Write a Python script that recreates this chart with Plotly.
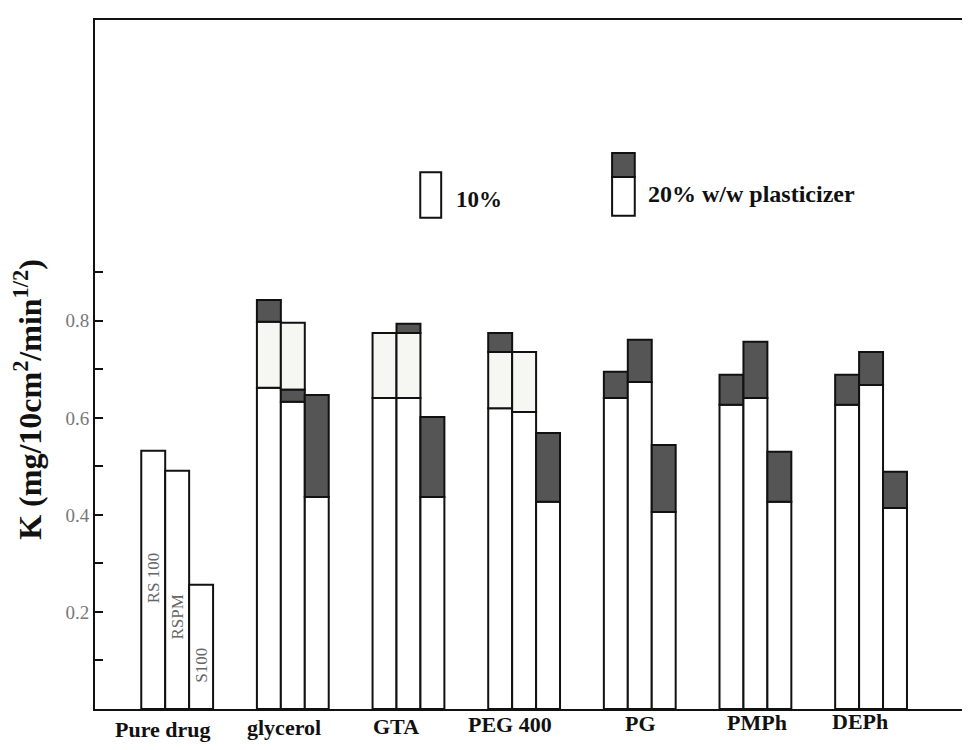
import numpy as np
import plotly.graph_objects as go

categories = ["Pure drug", "glycerol", "GTA", "PEG 400", "PG", "PMPh", "DEPh"]
polymers = ["RS 100", "RSPM", "S100"]
inner_labels = ["RS 100", "RSPM", "S100"]
inner_label_centers = [0.27, 0.19, 0.09]

# white (lower) segment tops, per polymer bar
white_rs100 = [0.532, 0.662, 0.641, 0.620, 0.641, 0.627, 0.627]
white_rspm = [0.491, 0.633, 0.641, 0.612, 0.674, 0.641, 0.668]
white_s100 = [0.256, 0.437, 0.437, 0.427, 0.406, 0.427, 0.414]

# light (pale) segment tops (None = no pale segment)
pale_rs100 = [None, 0.798, 0.775, 0.736, None, None, None]
pale_rspm = [None, 0.796, 0.775, 0.736, None, None, None]
pale_s100 = [None, None, None, None, None, None, None]

# dark segment tops (None = no dark segment)
dark_rs100 = [None, 0.843, None, 0.775, 0.695, 0.689, 0.689]
dark_rspm = [None, 0.658, 0.794, None, 0.761, 0.757, 0.736]
dark_s100 = [None, 0.647, 0.602, 0.569, 0.544, 0.530, 0.489]

y_tickvals = [0.2, 0.4, 0.6, 0.8]
y_ticktext = ["0.2", "0.4", "0.6", "0.8"]
y_minor_tickvals = [0.1, 0.3, 0.5, 0.7, 0.9]

# category label nudges (pixels) as in the skewed scan
label_dx = [-14, -9, -12, -14, 1, 2, -11]
label_dy = [-6, -4, -3, -1, 0, 1, 2]

WHITE = "#ffffff"
PALE = "#f6f6f2"
DARK = "#555555"
SERIF = "Liberation Serif, Times New Roman, serif"

series = [
    (white_rs100, pale_rs100, dark_rs100),
    (white_rspm, pale_rspm, dark_rspm),
    (white_s100, pale_s100, dark_s100),
]

def arr(v):
    return np.array([np.nan if x is None else x for x in v], dtype=float)

fig = go.Figure()
bw = 0.207
for i, (w, p, d) in enumerate(series):
    w, p, d = arr(w), arr(p), arr(d)
    off = -0.31 + bw * i
    dark_base = np.where(~np.isnan(p) & (p < d), p, w)
    dark_h = np.nan_to_num(d - dark_base, nan=0.0)
    pale_base = np.where(~np.isnan(d) & (d < p), d, w)
    pale_h = np.nan_to_num(p - pale_base, nan=0.0)
    fig.add_trace(go.Bar(
        x=categories, y=w, base=0, width=bw, offset=off,
        marker=dict(color=WHITE, line=dict(color="#111", width=2)),
        showlegend=False, name=polymers[i]))
    fig.add_trace(go.Bar(
        x=categories, y=pale_h, base=pale_base, width=bw, offset=off,
        marker=dict(color=PALE, line=dict(color="#111", width=np.where(pale_h > 0, 2, 0).tolist())),
        showlegend=False, name=polymers[i]))
    fig.add_trace(go.Bar(
        x=categories, y=dark_h, base=dark_base, width=bw, offset=off,
        marker=dict(color=DARK, line=dict(color="#111", width=np.where(dark_h > 0, 2, 0).tolist())),
        showlegend=False, name=polymers[i]))
    # inner label for the pure-drug bar only
    fig.add_trace(go.Bar(
        x=[categories[0]], y=[2 * inner_label_centers[i]], base=0, width=bw, offset=off,
        marker=dict(color="rgba(0,0,0,0)", line=dict(width=0)),
        text=[inner_labels[i]], textposition="inside", insidetextanchor="middle",
        textangle=-90, textfont=dict(family=SERIF, size=17, color="#666"),
        cliponaxis=False, constraintext="none",
        showlegend=False, hoverinfo="skip", name=polymers[i]))

# legend drawn as decorations
shapes = [
    dict(type="rect", xref="paper", yref="paper", x0=0.373, x1=0.397, y0=0.713, y1=0.779,
         line=dict(color="#111", width=2), fillcolor="white"),
    dict(type="rect", xref="paper", yref="paper", x0=0.593, x1=0.619, y0=0.716, y1=0.772,
         line=dict(color="#111", width=2), fillcolor="white"),
    dict(type="rect", xref="paper", yref="paper", x0=0.593, x1=0.619, y0=0.772, y1=0.807,
         line=dict(color="#111", width=2), fillcolor=DARK),
]
annotations = [
    dict(text="<b>10%</b>", xref="paper", yref="paper", x=0.412, y=0.740,
         xanchor="left", yanchor="middle", showarrow=False,
         font=dict(family=SERIF, size=23, color="#111")),
    dict(text="<b>20% w/w plasticizer</b>", xref="paper", yref="paper", x=0.632, y=0.747,
         xanchor="left", yanchor="middle", showarrow=False,
         font=dict(family=SERIF, size=24, color="#111")),
    dict(text="<b>K (mg/10cm<sup>2</sup>/min<sup>1/2</sup>)</b>", xref="paper", yref="paper",
         x=-0.077, y=0.450, xanchor="center", yanchor="middle", textangle=-90,
         showarrow=False, font=dict(family=SERIF, size=32, color="#111")),
]
for c, dx, dy in zip(categories, label_dx, label_dy):
    annotations.append(dict(
        text="<b>" + c + "</b>", x=c, xref="x", y=0, yref="paper",
        xanchor="center", yanchor="top", xshift=dx, yshift=dy,
        showarrow=False, font=dict(family=SERIF, size=22, color="#111")))

fig.update_layout(
    width=970, height=750,
    margin=dict(l=87, r=11, t=12, b=49),
    paper_bgcolor="white", plot_bgcolor="white",
    barmode="overlay",
    uniformtext=dict(minsize=17, mode="show"),
    shapes=shapes, annotations=annotations,
    font=dict(family=SERIF, color="#111"),
    xaxis=dict(
        range=[-0.71, 6.83], showline=True, linecolor="#111", linewidth=2,
        mirror=True, ticks="", showgrid=False, automargin=False,
        showticklabels=False,
    ),
    yaxis=dict(
        range=[0, 1.42], showline=True, linecolor="#111", linewidth=2,
        mirror=True, ticks="inside", ticklen=8, tickwidth=2, tickcolor="#111",
        tickvals=y_tickvals, ticktext=y_ticktext, showgrid=False, zeroline=False,
        automargin=False,
        minor=dict(tickvals=y_minor_tickvals, ticks="inside", ticklen=8,
                   tickwidth=2, tickcolor="#111", showgrid=False),
        tickfont=dict(family=SERIF, size=19, color="#777"),
    ),
)

fig.write_html("out.html")
